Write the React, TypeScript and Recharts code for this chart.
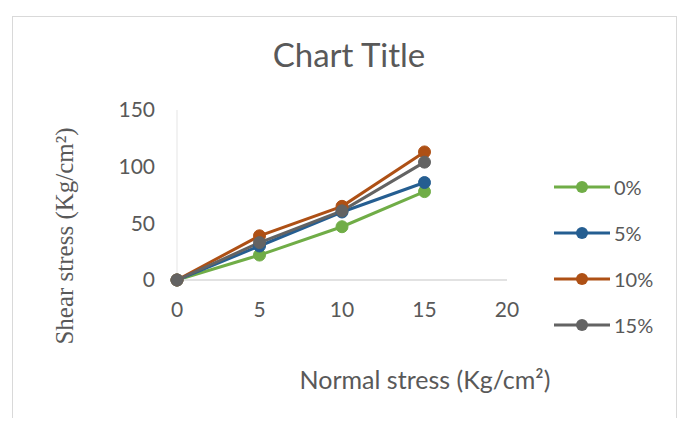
import React from 'react';
import { LineChart, Line, XAxis, YAxis, Legend } from 'recharts';

const normalStress = [0, 5, 10, 15];
const s0 = [0, 22, 47, 78];
const s5 = [0, 30, 60, 86];
const s10 = [0, 39, 65, 113];
const s15 = [0, 33, 61, 104];
const xTicks = [0, 5, 10, 15, 20];
const yTicks = [0, 50, 100, 150];

const seriesNames = ['0%', '5%', '10%', '15%'];
const seriesValues = [s0, s5, s10, s15];
const colors = ['#70AD47', '#255E91', '#AE5015', '#636363'];

const data = normalStress.map((x, i) => {
  const row: any = { x };
  seriesNames.forEach((n, k) => (row[n] = seriesValues[k][i]));
  return row;
});

const TEXT = '#595959';
const FONT = 'Lato, "Open Sans", sans-serif';
const SERIF = '"Liberation Serif", "DejaVu Serif", serif';

const renderLegend = (props: any) => {
  const payload = props.payload || [];
  const ordered = seriesNames
    .map((n) => payload.find((p: any) => p.value === n))
    .filter(Boolean);
  return (
    <div style={{ display: 'flex', flexDirection: 'column' }}>
      {ordered.map((p: any) => (
        <div key={p.value} style={{ display: 'flex', alignItems: 'center', height: 46 }}>
          <svg width={58} height={14}>
            <line x1={1} y1={7} x2={57} y2={7} stroke={p.color} strokeWidth={3} />
            <circle cx={29} cy={7} r={6} fill={p.color} />
          </svg>
          <span style={{ fontFamily: FONT, fontSize: 20, color: TEXT, marginLeft: 3 }}>{p.value}</span>
        </div>
      ))}
    </div>
  );
};

export default function App() {
  return (
    <div style={{ position: 'relative', width: 688, height: 426, margin: -8, background: '#fff' }}>
      <div
        style={{
          position: 'absolute',
          left: 12,
          top: 16,
          width: 665,
          height: 406,
          border: '1px solid #D9D9D9',
          boxSizing: 'border-box',
        }}
      />
      <div
        style={{
          position: 'absolute',
          left: 0,
          width: 698,
          top: 34,
          textAlign: 'center',
          fontFamily: FONT,
          fontSize: 33,
          color: TEXT,
        }}
      >
        Chart Title
      </div>
      <div style={{ position: 'absolute', left: 0, top: 0 }}>
        <LineChart
          width={688}
          height={426}
          data={data}
          margin={{ top: 110, right: 61, bottom: 116, left: 117 }}
        >
          <XAxis
            dataKey="x"
            type="number"
            domain={[0, 20]}
            ticks={xTicks}
            axisLine={{ stroke: '#D9D9D9', strokeWidth: 1.5 }}
            tickLine={false}
            tickSize={0}
            tickMargin={22}
            height={30}
            tick={{ fill: TEXT, fontSize: 21, fontFamily: FONT }}
            label={{
              content: () => (
                <text
                  x={425}
                  y={389}
                  textAnchor="middle"
                  fill={TEXT}
                  style={{ fontSize: 25, fontFamily: FONT }}
                >
                  Normal stress (Kg/cm²)
                </text>
              ),
            }}
          />
          <YAxis
            type="number"
            domain={[0, 150]}
            ticks={yTicks}
            width={60}
            axisLine={{ stroke: '#EEEEEE', strokeWidth: 1.5 }}
            tickLine={false}
            tickSize={0}
            tickMargin={22}
            tick={{ fill: TEXT, fontSize: 21, fontFamily: FONT }}
          />
          <Legend
            layout="vertical"
            verticalAlign="top"
            align="right"
            content={renderLegend}
            wrapperStyle={{ position: 'absolute', left: 553, top: 164, width: 120 }}
          />
          {seriesNames.map((n, k) => (
            <Line
              key={n}
              dataKey={n}
              name={n}
              stroke={colors[k]}
              strokeWidth={3}
              dot={{ r: 6, fill: colors[k], stroke: colors[k], strokeWidth: 1 }}
              activeDot={false}
              isAnimationActive={false}
            />
          ))}
        </LineChart>
      </div>
      <div
        style={{
          position: 'absolute',
          left: 65 - 150,
          top: 236 - 15,
          width: 300,
          height: 30,
          lineHeight: '30px',
          textAlign: 'center',
          transform: 'rotate(-90deg)',
          fontFamily: SERIF,
          fontSize: 25,
          color: TEXT,
          whiteSpace: 'nowrap',
        }}
      >
        Shear stress (Kg/cm²)
      </div>
    </div>
  );
}
